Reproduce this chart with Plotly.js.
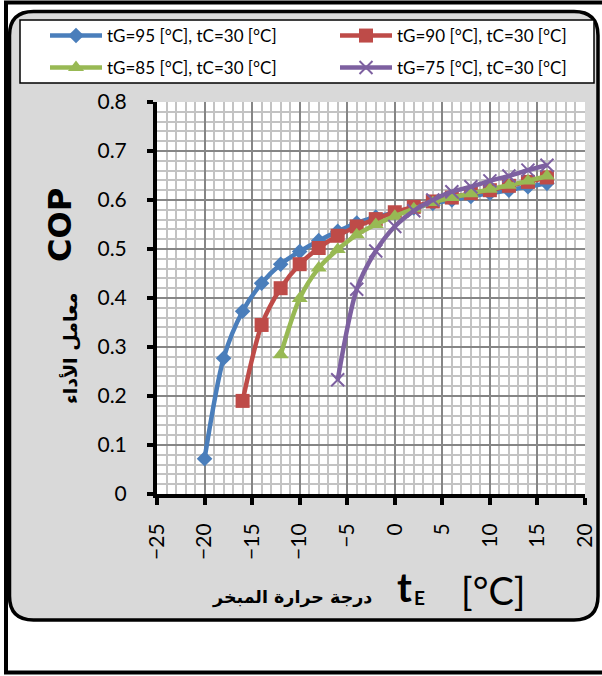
<!DOCTYPE html>
<html><head><meta charset="utf-8">
<script src="https://cdn.plot.ly/plotly-3.0.1.min.js"></script>
<style>html,body{margin:0;padding:0;background:#fff;}#chart{width:602px;height:676px;}</style>
</head><body><div id="chart"></div>
<script>
// ---- data ----
const seriesNames = ['tG=95 [°C], tC=30 [°C]', 'tG=90 [°C], tC=30 [°C]', 'tG=85 [°C], tC=30 [°C]', 'tG=75 [°C], tC=30 [°C]'];
const tE95 = [-20,-18,-16,-14,-12,-10,-8,-6,-4,-2,0,2,4,6,8,10,12,14,16];
const cop95 = [0.072,0.277,0.373,0.430,0.469,0.495,0.517,0.536,0.553,0.565,0.574,0.584,0.593,0.600,0.607,0.614,0.620,0.627,0.634];
const tE90 = [-16,-14,-12,-10,-8,-6,-4,-2,0,2,4,6,8,10,12,14,16];
const cop90 = [0.190,0.345,0.420,0.469,0.502,0.527,0.546,0.561,0.575,0.586,0.597,0.605,0.614,0.620,0.629,0.637,0.646];
const tE85 = [-12,-10,-8,-6,-4,-2,0,2,4,6,8,10,12,14,16];
const cop85 = [0.284,0.399,0.461,0.499,0.529,0.550,0.567,0.582,0.595,0.605,0.613,0.622,0.630,0.639,0.649];
const tE75 = [-6,-4,-2,0,2,4,6,8,10,12,14,16];
const cop75 = [0.233,0.418,0.496,0.546,0.578,0.600,0.617,0.627,0.639,0.649,0.661,0.671];
const xTickVals = [-25,-20,-15,-10,-5,0,5,10,15,20];
const yTickVals = [0,0.1,0.2,0.3,0.4,0.5,0.6,0.7,0.8];

// ---- layout geometry (pixels) ----
const W = 602, H = 676;
const M = {l:157, r:17, t:102, b:182};
const PW = W - M.l - M.r, PH = H - M.t - M.b;
const px = X => (X - M.l) / PW;
const py = Y => (H - M.b - Y) / PH;

function roundRectPath(x0, y0, x1, y1, r) {
  const P = (X, Y) => px(X) + ',' + py(Y);
  return 'M' + P(x0 + r, y0) + ' L' + P(x1 - r, y0) + ' Q' + P(x1, y0) + ' ' + P(x1, y0 + r) +
    ' L' + P(x1, y1 - r) + ' Q' + P(x1, y1) + ' ' + P(x1 - r, y1) +
    ' L' + P(x0 + r, y1) + ' Q' + P(x0, y1) + ' ' + P(x0, y1 - r) +
    ' L' + P(x0, y0 + r) + ' Q' + P(x0, y0) + ' ' + P(x0 + r, y0) + ' Z';
}

const colors = ['#4A7EBB', '#BE4B48', '#98B954', '#7D60A0'];
const symbols = ['diamond', 'square', 'triangle-up', 'x-thin'];
const sizes = [12, 14, 14, 13];
const legendIds = ['legend', 'legend2', 'legend3', 'legend4'];
const legendPos = [[45, 36], [335, 36], [45, 68], [335, 68]];
const xs = [tE95, tE90, tE85, tE75];
const ys = [cop95, cop90, cop85, cop75];

const traces = xs.map((x, i) => ({
  type: 'scatter', mode: 'lines+markers', x: x, y: ys[i], name: seriesNames[i],
  legend: legendIds[i],
  line: {color: colors[i], width: 4.5, shape: 'spline', smoothing: 0.8},
  marker: {symbol: symbols[i], size: sizes[i], color: colors[i],
           line: {color: colors[i], width: i === 3 ? 2 : 0}},
  hoverinfo: 'skip'
}));

const layout = {
  width: W, height: H,
  margin: M,
  paper_bgcolor: '#ffffff', plot_bgcolor: '#ffffff',
  showlegend: true,
  xaxis: {
    range: [-25, 20], tickvals: xTickVals, tickangle: -90,
    showline: true, linecolor: '#000', linewidth: 4,
    ticks: 'outside', ticklen: 7, tickwidth: 4, tickcolor: '#000',
    showgrid: true, gridcolor: '#868686', gridwidth: 2,
    minor: {dtick: 1, tick0: 0, showgrid: true, gridcolor: '#c3c3c3', gridwidth: 2, ticks: ''},
    zeroline: false, ticklabelstandoff: 10,
    tickfont: {family: 'Lato, sans-serif', size: 21, color: '#000'}
  },
  yaxis: {
    range: [0, 0.8], tickvals: yTickVals,
    showline: true, linecolor: '#000', linewidth: 4,
    ticks: 'outside', ticklen: 6, tickwidth: 4, tickcolor: '#000',
    showgrid: true, gridcolor: '#868686', gridwidth: 2,
    minor: {dtick: 0.02, tick0: 0, showgrid: true, gridcolor: '#c3c3c3', gridwidth: 2, ticks: ''},
    zeroline: false, ticklabelstandoff: 16,
    tickfont: {family: 'Lato, sans-serif', size: 21, color: '#000'}
  },
  shapes: [
    {type: 'rect', xref: 'paper', yref: 'paper', layer: 'below',
     x0: px(6), x1: px(612), y0: py(672.5), y1: py(2.5),
     line: {color: '#000', width: 4}, fillcolor: '#ffffff'},
    {type: 'path', xref: 'paper', yref: 'paper', layer: 'below',
     path: roundRectPath(9.5, 11.5, 598, 620, 24),
     line: {color: '#000', width: 3.5}, fillcolor: '#d9d9d9'},
    {type: 'rect', xref: 'paper', yref: 'paper', layer: 'below',
     x0: 0, x1: 1, y0: 0, y1: 1, line: {width: 0}, fillcolor: '#ffffff'},
    {type: 'rect', xref: 'paper', yref: 'paper', layer: 'below',
     x0: px(20), x1: px(594), y0: py(83), y1: py(20),
     line: {color: '#000', width: 1.5}, fillcolor: '#ffffff'}
  ],
  annotations: [
    {x: px(60), y: py(225), text: '<b>COP</b>', textangle: -90,
     font: {family: 'DejaVu Sans, sans-serif', size: 32, color: '#000'}},
    {x: px(70), y: py(348), text: '<b>معامل الأداء</b>', textangle: -90,
     font: {family: 'DejaVu Sans, sans-serif', size: 19, color: '#000'}},
    {x: px(292), y: py(597), text: '<b>درجة حرارة المبخر</b>',
     font: {family: 'DejaVu Sans, sans-serif', size: 17.5, color: '#000'}},
    {x: px(404), y: py(587), text: '<b>t</b>',
     font: {family: 'Lato, sans-serif', size: 40, color: '#000'}},
    {x: px(419), y: py(597), text: '<b>E</b>',
     font: {family: 'Lato, sans-serif', size: 19, color: '#000'}},
    {x: px(493), y: py(590), text: '[°C]',
     font: {family: 'Lato, sans-serif', size: 38, color: '#000'}}
  ].map(a => Object.assign({xref: 'paper', yref: 'paper', xanchor: 'center', yanchor: 'middle', showarrow: false}, a))
};

legendIds.forEach((id, i) => {
  layout[id] = {
    xref: 'paper', yref: 'paper', xanchor: 'left', yanchor: 'middle',
    x: px(legendPos[i][0]), y: py(legendPos[i][1]),
    orientation: 'h', itemwidth: 52,
    bgcolor: 'rgba(0,0,0,0)', borderwidth: 0,
    font: {family: 'Lato, sans-serif', size: 17, color: '#000'}
  };
});

Plotly.newPlot('chart', traces, layout, {staticPlot: true, displayModeBar: false});
</script></body></html>
